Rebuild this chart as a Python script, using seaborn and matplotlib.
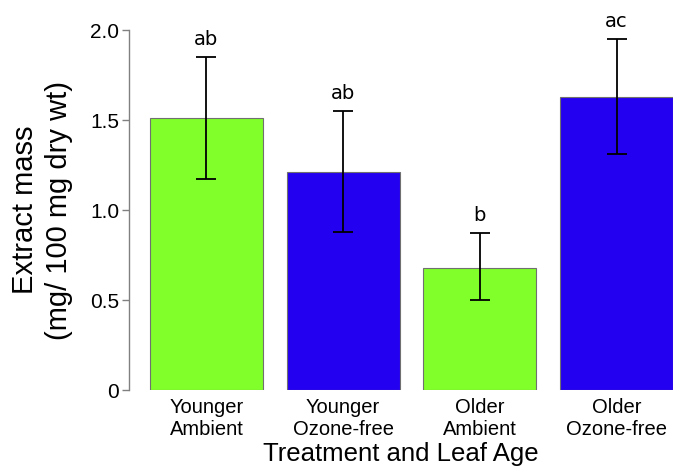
import matplotlib
matplotlib.use("Agg")
import matplotlib.pyplot as plt
import seaborn as sns
import pandas as pd

categories = ["Younger\nAmbient", "Younger\nOzone-free", "Older\nAmbient", "Older\nOzone-free"]
treatment = ["Ambient", "Ozone-free", "Ambient", "Ozone-free"]
means = [1.51, 1.21, 0.68, 1.63]
err_upper = [1.85, 1.55, 0.87, 1.95]
err_lower = [1.17, 0.88, 0.50, 1.31]
letters = ["ab", "ab", "b", "ac"]
ytick_vals = [0, 0.5, 1.0, 1.5, 2.0]
ytick_labels = ["0", "0.5", "1.0", "1.5", "2.0"]

sns.set_theme(style="white")
plt.rcParams["font.family"] = ["Liberation Sans", "DejaVu Sans"]
plt.rcParams["text.color"] = "black"
plt.rcParams["axes.labelcolor"] = "black"
plt.rcParams["xtick.color"] = "black"
plt.rcParams["ytick.color"] = "black"

df = pd.DataFrame({"cat": categories, "treat": treatment, "mean": means})
palette = {"Ambient": "#80FF2A", "Ozone-free": "#2400F0"}

fig = plt.figure(figsize=(6.75, 4.7), dpi=100)
ax = fig.add_axes([0.191, 0.170, 0.806, 0.766])

sns.barplot(data=df, x="cat", y="mean", hue="treat", palette=palette, dodge=False,
            width=0.825, errorbar=None, edgecolor="#707070", linewidth=0.8,
            saturation=1, legend=False, ax=ax)

xs = list(range(len(categories)))
lower = [m - l for m, l in zip(means, err_lower)]
upper = [u - m for m, u in zip(means, err_upper)]
ax.errorbar(xs, means, yerr=[lower, upper], fmt="none", ecolor="black",
            elinewidth=1.3, capsize=7, capthick=1.3, zorder=5)

for x, u, t in zip(xs, err_upper, letters):
    ax.annotate(t, (x, u), xytext=(0, 6), textcoords="offset points",
                ha="center", va="bottom", fontsize=14, family="DejaVu Sans",
                color="black", annotation_clip=False)

ax.set_xlim(-0.567, 3.413)
ax.set_ylim(0, 2.0)
ax.set_yticks(ytick_vals)
ax.set_yticklabels(ytick_labels, fontsize=15)
ax.set_xticks(xs)
ax.set_xticklabels(categories, fontsize=14.5, linespacing=1.2)
ax.tick_params(axis="x", length=0, pad=6)
ax.tick_params(axis="y", left=True, length=5, width=1, color="#808080", pad=2)

for s in ["top", "right", "bottom"]:
    ax.spines[s].set_visible(False)
ax.spines["left"].set_color("#808080")
ax.spines["left"].set_linewidth(1)

ax.set_xlabel("Treatment and Leaf Age", fontsize=18.5, labelpad=2)
ax.set_ylabel("Extract mass\n(mg/ 100 mg dry wt)", fontsize=21, labelpad=12, linespacing=1.3)

fig.savefig("out.png", dpi=100)
